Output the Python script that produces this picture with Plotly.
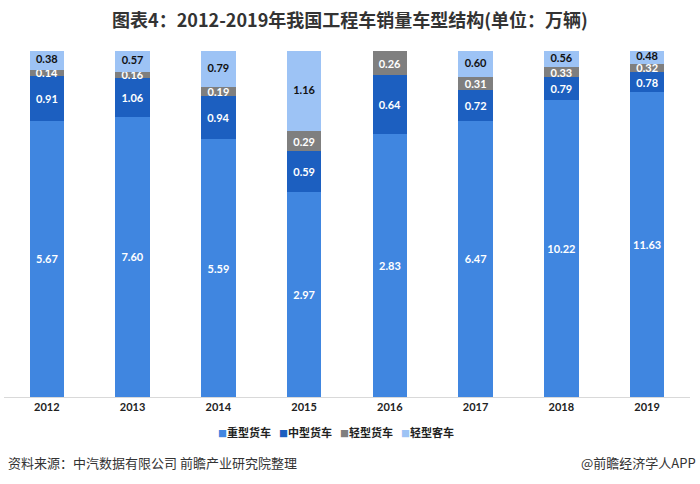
import plotly.graph_objects as go

years = ["2012", "2013", "2014", "2015", "2016", "2017", "2018", "2019"]
heavy = [5.67, 7.60, 5.59, 2.97, 2.83, 6.47, 10.22, 11.63]
medium = [0.91, 1.06, 0.94, 0.59, 0.64, 0.72, 0.79, 0.78]
light_truck = [0.14, 0.16, 0.19, 0.29, 0.26, 0.31, 0.33, 0.32]
light_bus = [0.38, 0.57, 0.79, 1.16, None, 0.60, 0.56, 0.48]

series = [
    ("重型货车", heavy, "#4086E0", "white"),
    ("中型货车", medium, "#1C5FC0", "white"),
    ("轻型货车", light_truck, "#7F7F7F", "white"),
    ("轻型客车", light_bus, "#9DC3F5", "#111111"),
]

fig = go.Figure()
for k, (name, vals, color, tcolor) in enumerate(series):
    top = (k == len(series) - 1)
    fig.add_trace(go.Bar(
        x=years, y=vals, name=name,
        marker=dict(color=color, line=dict(width=0)),
        text=None if top else ["%.2f" % v for v in vals],
        textposition="none" if top else "inside", insidetextanchor="middle",
        textfont=dict(family="Lato", size=11, color=tcolor, weight="bold"),
        cliponaxis=False, showlegend=False, hoverinfo="skip",
    ))

# labels of the top series, placed at the middle of its (percent) segment
totals = [sum(v or 0 for v in col) for col in zip(heavy, medium, light_truck, light_bus)]
lb_x, lb_y, lb_t = [], [], []
for yr, v, t in zip(years, light_bus, totals):
    if v:
        lb_x.append(yr)
        lb_y.append(100 - 50 * v / t)
        lb_t.append("%.2f" % v)
fig.add_trace(go.Scatter(
    x=lb_x, y=lb_y, text=lb_t, mode="text", textposition="middle center",
    textfont=dict(family="Lato", size=11, color="#111111", weight="bold"),
    showlegend=False, hoverinfo="skip", cliponaxis=False))

fig.update_layout(
    barmode="stack", barnorm="percent", bargap=0.6,
    width=700, height=484,
    margin=dict(l=4, r=10, t=51, b=87),
    paper_bgcolor="white", plot_bgcolor="white",
    uniformtext=dict(minsize=11, mode="show"),
    hovermode=False,
    title=dict(text="<b>图表4：2012-2019年我国工程车销量车型结构(单位：万辆)</b>",
               x=0.5, xanchor="center", y=0.958, yanchor="middle",
               font=dict(family="Noto Sans CJK SC", size=18, color="#333333")),
    xaxis=dict(showline=True, linecolor="#D9D9D9", linewidth=1, ticks="",
               tickfont=dict(family="Lato", size=11, color="#222222", weight="bold")),
    yaxis=dict(visible=False, range=[0, 100]),
    showlegend=False,
)

# manual legend
leg_x0 = 216
leg_step = 61
for i, (name, vals, color, tcolor) in enumerate(series):
    fig.add_annotation(
        text="<span style='color:%s;font-size:9px'>■</span>%s" % (color, name),
        xref="paper", yref="paper",
        x=(leg_x0 + i * leg_step - 4) / 686.0, xanchor="left",
        y=-0.101, yanchor="middle", showarrow=False,
        font=dict(family="Noto Sans CJK SC", size=11, color="#222222", weight="bold"))

fig.add_annotation(text="资料来源：中汽数据有限公司 前瞻产业研究院整理", xref="paper", yref="paper",
                   x=0, xanchor="left", y=-0.19, yanchor="middle", xshift=2, showarrow=False,
                   font=dict(family="Noto Sans CJK SC", size=13, color="#333333"))
fig.add_annotation(text="@前瞻经济学人APP", xref="paper", yref="paper",
                   x=1, xanchor="right", y=-0.19, yanchor="middle", xshift=8, showarrow=False,
                   font=dict(family="Noto Sans CJK SC", size=13, color="#333333"))

fig.write_html("out.html", config={"displayModeBar": False},
               post_script="document.body.style.margin='0px';document.body.style.overflow='hidden';")
